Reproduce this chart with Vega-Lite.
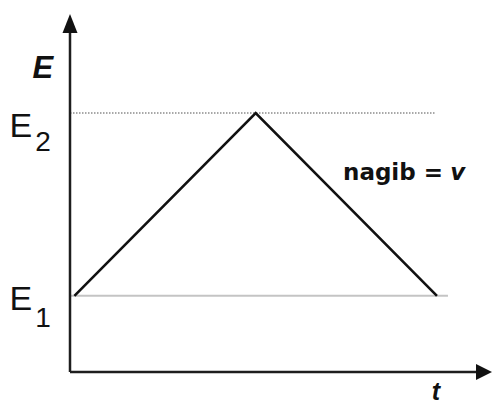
{
  "$schema": "https://vega.github.io/schema/vega-lite/v6.json",
  "width": 422,
  "height": 358,
  "autosize": "none",
  "padding": {"left": 70, "top": 14, "right": 1, "bottom": 35},
  "background": "white",
  "config": {"view": {"stroke": null}},
  "datasets": {
    "curve": [
      {"t": 0.12, "E": 1.0, "o": 1},
      {"t": 5.06, "E": 3.4, "o": 2},
      {"t": 10.0, "E": 1.0, "o": 3}
    ],
    "axes": [
      {"t": 0, "E": 0, "t2": 0, "E2": 4.5},
      {"t": 0, "E": 0, "t2": 11.1, "E2": 0}
    ],
    "levelE1": [{"t": 0, "E": 1.0, "t2": 10.3, "E2": 1.0}],
    "levelE2": [{"t": 0, "E": 3.4, "t2": 9.95, "E2": 3.4}],
    "arrowUp": [{"t": 0, "E": 4.7}],
    "arrowRight": [{"t": 11.5, "E": 0}],
    "bigE": [
      {"t": -1.65, "E": 3.085, "label": "E"},
      {"t": -1.65, "E": 0.814, "label": "E"}
    ],
    "subs": [
      {"t": -0.736, "E": 2.9, "label": "2"},
      {"t": -0.736, "E": 0.59, "label": "1"}
    ],
    "axisE": [{"t": -0.74, "E": 3.86, "label": "E"}],
    "axisT": [{"t": 9.97, "E": -0.37, "label": "t"}],
    "nagib": [{"t": 7.44, "E": 2.52, "label": "nagib = "}],
    "nagibV": [{"t": 10.36, "E": 2.52, "label": "v"}]
  },
  "layer": [
    {
      "data": {"name": "levelE1"},
      "mark": {"type": "rule", "color": "#c4c4c4", "strokeWidth": 2},
      "encoding": {
        "x": {"field": "t", "type": "quantitative", "scale": {"domain": [0, 11.5], "nice": false, "zero": false}, "axis": null},
        "y": {"field": "E", "type": "quantitative", "scale": {"domain": [0, 4.7], "nice": false, "zero": false}, "axis": null},
        "x2": {"field": "t2"},
        "y2": {"field": "E2"}
      }
    },
    {
      "data": {"name": "levelE2"},
      "mark": {"type": "rule", "color": "#8c8c8c", "strokeWidth": 1.6, "strokeDash": [1.5, 1.5]},
      "encoding": {
        "x": {"field": "t", "type": "quantitative"},
        "y": {"field": "E", "type": "quantitative"},
        "x2": {"field": "t2"},
        "y2": {"field": "E2"}
      }
    },
    {
      "data": {"name": "axes"},
      "mark": {"type": "rule", "color": "#1e1e1e", "strokeWidth": 2.5},
      "encoding": {
        "x": {"field": "t", "type": "quantitative"},
        "y": {"field": "E", "type": "quantitative"},
        "x2": {"field": "t2"},
        "y2": {"field": "E2"}
      }
    },
    {
      "data": {"name": "curve"},
      "mark": {"type": "line", "color": "#111111", "strokeWidth": 2.6},
      "encoding": {
        "x": {"field": "t", "type": "quantitative"},
        "y": {"field": "E", "type": "quantitative"},
        "order": {"field": "o"}
      }
    },
    {
      "data": {"name": "arrowUp"},
      "mark": {"type": "point", "filled": true, "color": "#111111", "opacity": 1, "size": 400, "shape": "M0,0L0.75,1.9L-0.75,1.9Z"},
      "encoding": {
        "x": {"field": "t", "type": "quantitative"},
        "y": {"field": "E", "type": "quantitative"}
      }
    },
    {
      "data": {"name": "arrowRight"},
      "mark": {"type": "point", "filled": true, "color": "#111111", "opacity": 1, "size": 400, "shape": "M0,0L-1.6,-0.8L-1.6,0.8Z"},
      "encoding": {
        "x": {"field": "t", "type": "quantitative"},
        "y": {"field": "E", "type": "quantitative"}
      }
    },
    {
      "data": {"name": "bigE"},
      "mark": {"type": "text", "font": "Liberation Sans", "fontSize": 34, "align": "left", "baseline": "alphabetic", "color": "#111111"},
      "encoding": {
        "x": {"field": "t", "type": "quantitative"},
        "y": {"field": "E", "type": "quantitative"},
        "text": {"field": "label"}
      }
    },
    {
      "data": {"name": "subs"},
      "mark": {"type": "text", "font": "Liberation Sans", "fontSize": 28, "align": "center", "baseline": "alphabetic", "color": "#111111"},
      "encoding": {
        "x": {"field": "t", "type": "quantitative"},
        "y": {"field": "E", "type": "quantitative"},
        "text": {"field": "label"}
      }
    },
    {
      "data": {"name": "axisE"},
      "mark": {"type": "text", "font": "Liberation Sans", "fontSize": 31, "fontWeight": "bold", "fontStyle": "italic", "align": "center", "baseline": "alphabetic", "color": "#111111"},
      "encoding": {
        "x": {"field": "t", "type": "quantitative"},
        "y": {"field": "E", "type": "quantitative"},
        "text": {"field": "label"}
      }
    },
    {
      "data": {"name": "axisT"},
      "mark": {"type": "text", "font": "Liberation Sans", "fontSize": 25, "fontWeight": "bold", "fontStyle": "italic", "align": "center", "baseline": "alphabetic", "color": "#111111"},
      "encoding": {
        "x": {"field": "t", "type": "quantitative"},
        "y": {"field": "E", "type": "quantitative"},
        "text": {"field": "label"}
      }
    },
    {
      "data": {"name": "nagib"},
      "mark": {"type": "text", "font": "DejaVu Sans", "fontSize": 23, "fontWeight": "bold", "align": "left", "baseline": "alphabetic", "color": "#111111"},
      "encoding": {
        "x": {"field": "t", "type": "quantitative"},
        "y": {"field": "E", "type": "quantitative"},
        "text": {"field": "label"}
      }
    },
    {
      "data": {"name": "nagibV"},
      "mark": {"type": "text", "font": "DejaVu Sans", "fontSize": 23, "fontWeight": "bold", "fontStyle": "italic", "align": "left", "baseline": "alphabetic", "color": "#111111"},
      "encoding": {
        "x": {"field": "t", "type": "quantitative"},
        "y": {"field": "E", "type": "quantitative"},
        "text": {"field": "label"}
      }
    }
  ]
}
